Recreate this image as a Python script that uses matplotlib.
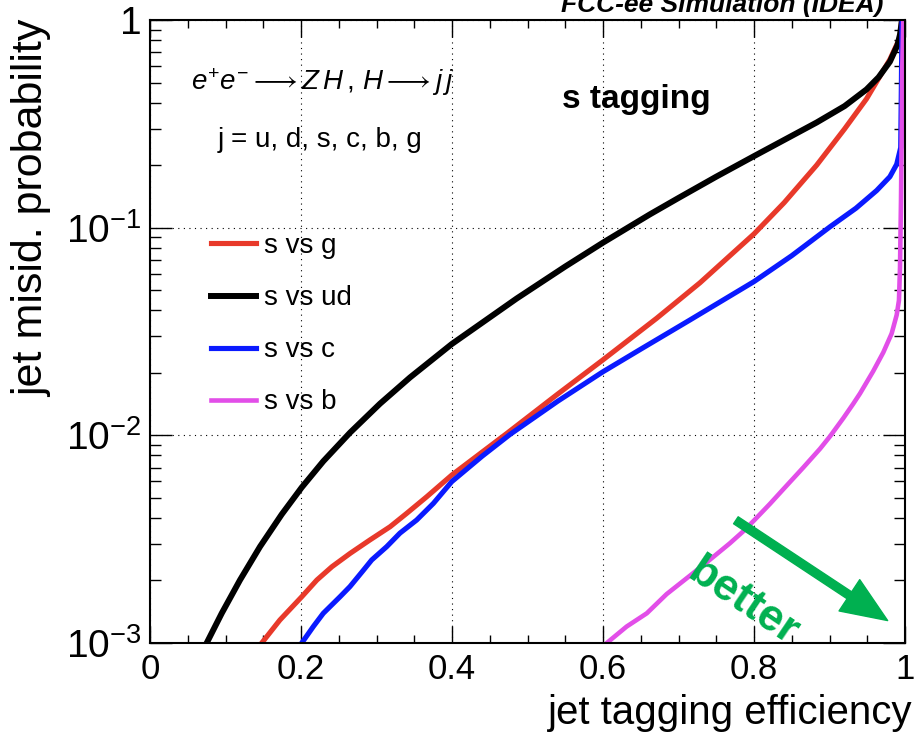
import matplotlib
matplotlib.use("Agg")
import matplotlib.pyplot as plt
from matplotlib.ticker import FixedLocator, MultipleLocator, LogLocator, NullFormatter

FONT = "Liberation Sans"
plt.rcParams["font.family"] = [FONT, "DejaVu Sans"]
plt.rcParams["mathtext.fontset"] = "custom"
plt.rcParams["mathtext.rm"] = FONT
plt.rcParams["mathtext.it"] = FONT + ":italic"
plt.rcParams["mathtext.bf"] = FONT + ":bold"
plt.rcParams["mathtext.fallback"] = "stixsans"

# curves (efficiency, mis-id probability)
eff_g = [0.148, 0.172, 0.201, 0.221, 0.241, 0.265, 0.291, 0.318, 0.340, 0.3665, 0.40, 0.4724, 0.54, 0.60,
         0.671, 0.7285, 0.80, 0.84, 0.883, 0.92, 0.949, 0.98, 0.9934, 0.9956]
mis_g = [1.0e-3, 1.29e-3, 1.67e-3, 2.01e-3, 2.33e-3, 2.70e-3, 3.13e-3, 3.63e-3, 4.21e-3, 5.06e-3, 6.45e-3, 1.02e-2,
         1.58e-2, 2.31e-2, 3.66e-2, 5.43e-2, 9.33e-2, 0.132, 0.20, 0.299, 0.417, 0.646, 0.822, 1.0]

eff_ud = [0.0751, 0.095, 0.1192, 0.1457, 0.1744, 0.2009, 0.2295, 0.2649, 0.3046, 0.3444, 0.3996, 0.4857, 0.55,
          0.60, 0.636, 0.6623, 0.70, 0.75, 0.80, 0.883, 0.92, 0.949, 0.965, 0.98, 0.99, 0.9934, 0.996]
mis_ud = [1.0e-3, 1.39e-3, 2.01e-3, 2.91e-3, 4.16e-3, 5.61e-3, 7.50e-3, 1.03e-2, 1.42e-2, 1.90e-2, 2.75e-2, 4.56e-2,
          6.50e-2, 8.47e-2, 0.1016, 0.116, 0.139, 0.176, 0.221, 0.321, 0.385, 0.463, 0.530, 0.630, 0.757, 0.851, 1.0]

eff_c = [0.201, 0.2163, 0.2295, 0.2517, 0.2649, 0.2826, 0.2936, 0.3135, 0.331, 0.3532, 0.3753, 0.3996, 0.44,
         0.4768, 0.54, 0.5996, 0.65, 0.715, 0.80, 0.85, 0.9007, 0.935, 0.9625, 0.98, 0.989, 0.9943, 0.9952, 0.996]
mis_c = [1.0e-3, 1.20e-3, 1.39e-3, 1.67e-3, 1.87e-3, 2.24e-3, 2.51e-3, 2.91e-3, 3.38e-3, 3.91e-3, 4.7e-3, 5.98e-3,
         7.94e-3, 1.01e-2, 1.46e-2, 2.02e-2, 2.60e-2, 3.59e-2, 5.50e-2, 7.33e-2, 0.101, 0.124, 0.151, 0.176, 0.202,
         0.243, 0.5, 1.0]

eff_b = [0.605, 0.6313, 0.658, 0.6843, 0.7152, 0.7417, 0.768, 0.7858, 0.80, 0.8212, 0.8388, 0.8653, 0.8874,
         0.9007, 0.9183, 0.9315, 0.9404, 0.958, 0.9713, 0.9823, 0.989, 0.992, 0.9934, 0.9947, 0.9956, 0.9964, 0.9977]
mis_b = [1.0e-3, 1.20e-3, 1.39e-3, 1.72e-3, 2.11e-3, 2.52e-3, 3.02e-3, 3.45e-3, 3.89e-3, 4.68e-3, 5.50e-3, 7.0e-3,
         8.61e-3, 9.89e-3, 1.21e-2, 1.42e-2, 1.59e-2, 2.04e-2, 2.51e-2, 3.09e-2, 3.80e-2, 4.47e-2, 6.46e-2, 0.136,
         0.285, 0.596, 1.0]

labels = ["s vs g", "s vs ud", "s vs c", "s vs b"]
colors = ["#e8392a", "#000000", "#0a1aff", "#e24ee8"]
widths = [3.7, 4.3, 3.7, 3.3]

x_ticks = [0, 0.2, 0.4, 0.6, 0.8, 1]
x_ticklabels = ["0", "0.2", "0.4", "0.6", "0.8", "1"]
y_ticks = [1e-3, 1e-2, 1e-1, 1]
y_ticklabels = [r"$\mathregular{10^{-3}}$", r"$\mathregular{10^{-2}}$", r"$\mathregular{10^{-1}}$", "1"]

green = "#00b050"

fig = plt.figure(figsize=(9.16, 7.34), dpi=100)
ax = fig.add_axes([150 / 916, 91 / 734, 755 / 916, 623 / 734])

curves = [(eff_g, mis_g), (eff_ud, mis_ud), (eff_c, mis_c), (eff_b, mis_b)]
for (ex, ey), lab, col, w in zip(curves, labels, colors, widths):
    ax.plot(ex, ey, color=col, lw=w, label=lab, solid_joinstyle="round")

ax.set_yscale("log")
ax.set_xlim(0, 1)
ax.set_ylim(1e-3, 1)

ax.xaxis.set_major_locator(FixedLocator(x_ticks))
ax.set_xticklabels(x_ticklabels)
ax.xaxis.set_minor_locator(MultipleLocator(0.05))
ax.yaxis.set_major_locator(FixedLocator(y_ticks))
ax.set_yticklabels(y_ticklabels)
ax.yaxis.set_minor_locator(LogLocator(base=10, subs=range(2, 10)))
ax.yaxis.set_minor_formatter(NullFormatter())

ax.tick_params(which="both", direction="in", top=True, right=True, width=1.0, colors="black")
ax.tick_params(axis="x", which="major", length=12, labelsize=25, pad=7)
ax.tick_params(axis="x", which="minor", length=6)
ax.tick_params(axis="y", which="major", length=16, labelsize=28, pad=6)
ax.tick_params(axis="y", which="minor", length=8)
for s in ax.spines.values():
    s.set_linewidth(1.5)

ax.grid(True, which="major", color="black", lw=0.8, linestyle=(0, (1, 4)))

ax.set_xlabel("jet tagging efficiency", fontsize=29, loc="right")
ax.xaxis.set_label_coords(1.0095, -0.082)
ax.set_ylabel("jet misid. probability", fontsize=31, loc="top", labelpad=10)

ax.legend(loc="upper left", bbox_to_anchor=(0.048, 0.698), frameon=False, fontsize=20,
          handlelength=1.6, handletextpad=0.3, labelspacing=0.94)

ax.text(0.228, 0.900, r"$e^{+}e^{-}\longrightarrow Z\,H\,,\,H\longrightarrow j\,j$", transform=ax.transAxes,
        ha="center", va="center", fontsize=20)
ax.text(0.225, 0.807, "j = u, d, s, c, b, g", transform=ax.transAxes,
        ha="center", va="center", fontsize=20)
ax.text(0.644, 0.872, "s tagging", transform=ax.transAxes,
        ha="center", va="center", fontsize=24, fontweight="bold")

# the "better" arrow
ax.annotate("", xy=(0.977, 0.036), xytext=(0.776, 0.197), xycoords="axes fraction",
            arrowprops=dict(facecolor=green, edgecolor=green, width=6, headwidth=27, headlength=33, shrink=0))
ax.text(0.785, 0.066, "better", transform=ax.transAxes, ha="center", va="center",
        rotation=-34, rotation_mode="anchor", fontsize=32, fontweight="bold", color=green)

fig.text(883 / 916, 1 - 12 / 734, "FCC-ee Simulation (IDEA)", ha="right", va="baseline",
         fontsize=19, fontweight="bold", fontstyle="italic")

fig.savefig("out.png", dpi=100, facecolor="white")
